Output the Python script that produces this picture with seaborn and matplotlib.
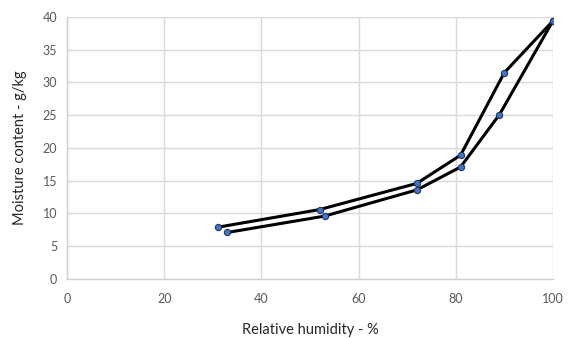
import numpy as np
import pandas as pd
import matplotlib
matplotlib.use("Agg")
import matplotlib.pyplot as plt
import seaborn as sns

# desorption (upper curve) and adsorption (lower curve)
rh_upper = [31, 52, 72, 81, 90, 100]
mc_upper = [7.9, 10.6, 14.6, 18.9, 31.5, 39.4]
rh_lower = [33, 53, 72, 81, 89, 100]
mc_lower = [7.1, 9.6, 13.6, 17.1, 25.1, 39.4]

x_ticks = [0, 20, 40, 60, 80, 100]
y_ticks = [0, 5, 10, 15, 20, 25, 30, 35, 40]

df = pd.concat([
    pd.DataFrame({"rh": rh_upper, "mc": mc_upper, "curve": "upper"}),
    pd.DataFrame({"rh": rh_lower, "mc": mc_lower, "curve": "lower"}),
])

sns.set_theme(style="white")
plt.rcParams["font.family"] = ["Lato", "DejaVu Sans"]

fig = plt.figure(figsize=(5.7, 3.38), dpi=100)
ax = fig.add_axes([0.1175, 0.1746, 0.8525, 0.7751])

sns.lineplot(
    data=df, x="rh", y="mc", units="curve", estimator=None, sort=False,
    color="black", linewidth=2.2, marker="o", markersize=4.5,
    markerfacecolor="#4472C4", markeredgecolor="#1F3864", markeredgewidth=0.8,
    ax=ax, zorder=3,
)

ax.set_xlim(0, 100)
ax.set_ylim(0, 40)
ax.set_xticks(x_ticks)
ax.set_yticks(y_ticks)
ax.grid(True, color="#d9d9d9", linewidth=1)
ax.set_axisbelow(True)
for s in ["top", "right"]:
    ax.spines[s].set_visible(False)
for s in ["left", "bottom"]:
    ax.spines[s].set_color("#d0d0d0")
    ax.spines[s].set_linewidth(1)
ax.tick_params(axis="both", length=0, labelsize=9, labelcolor="#595959", pad=7)
ax.tick_params(axis="x", pad=10)

ax.set_xlabel("Relative humidity - %", fontsize=10.5, color="#262626", labelpad=13)
ax.set_ylabel("Moisture content - g/kg", fontsize=10.5, color="#262626", labelpad=11)

fig.savefig("out.png", dpi=100)
